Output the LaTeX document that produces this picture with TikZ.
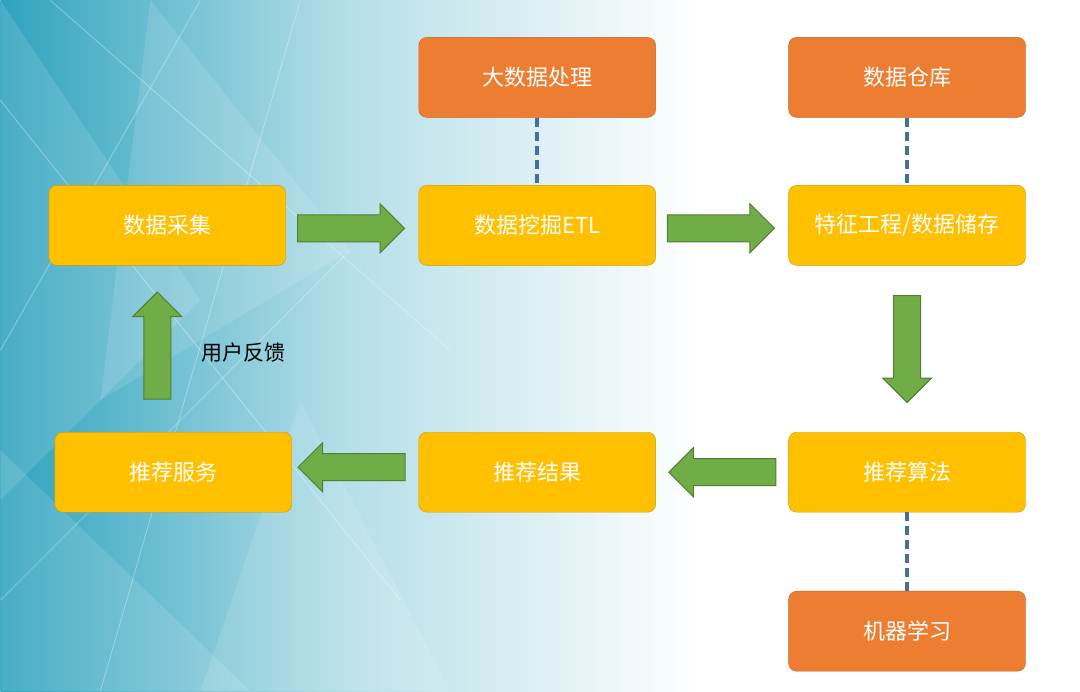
\documentclass[tikz,border=0pt]{standalone}
\usepackage{fontspec}
\setmainfont{Noto Sans CJK SC}
\usetikzlibrary{shapes.arrows}
\definecolor{boxy}{HTML}{FFC000}
\definecolor{boxo}{HTML}{ED7D31}
\definecolor{arrg}{HTML}{70AD47}
\definecolor{arrb}{HTML}{507E32}
\definecolor{dashb}{HTML}{41719C}
\definecolor{teal}{HTML}{2FA3BE}
\begin{document}
\begin{tikzpicture}[x=1pt,y=-1pt,
  ybox/.style={draw=boxy!80!black,fill=boxy,rounded corners=8pt,minimum width=237pt,minimum height=80pt,text=white,font=\fontsize{22}{26}\selectfont},
  obox/.style={ybox,draw=boxo!80!black,fill=boxo},
  garrow/.style={single arrow,draw=arrb,fill=arrg,line width=1pt,minimum height=107pt,inner sep=13pt,single arrow head extend=11pt},
  dline/.style={draw=dashb,line width=3.5pt,dash pattern=on 9pt off 5pt}]
\shade[left color=teal,right color=white,middle color=teal!35] (0,0) rectangle (700,691);
\fill[white] (700,0) rectangle (1080,691);
\foreach \a/\b/\c in {{0,0}/{200,300}/{0,500},{150,0}/{350,250}/{100,400},{0,450}/{250,691}/{0,691},{300,400}/{450,691}/{200,691}}
  \fill[white,opacity=0.12] (\a) -- (\b) -- (\c) -- cycle;
\foreach \a/\b in {{0,100}/{400,600},{50,0}/{450,350},{0,600}/{350,250},{100,691}/{300,0},{200,0}/{0,350}}
  \draw[white,opacity=0.35,line width=0.8pt] (\a) -- (\b);
\node[obox] (big) at (537,77) {大数据处理};
\node[obox] (dw) at (907,77) {数据仓库};
\node[ybox] (cj) at (167,225) {数据采集};
\node[ybox] (etl) at (537,225) {数据挖掘ETL};
\node[ybox] (fe) at (907,225) {特征工程/数据储存};
\node[ybox] (fw) at (173,472) {推荐服务};
\node[ybox] (jg) at (537,472) {推荐结果};
\node[ybox] (sf) at (907,472) {推荐算法};
\node[obox] (ml) at (907,631) {机器学习};
\draw[dline] (big) -- (etl);
\draw[dline] (dw) -- (fe);
\draw[dline] (sf) -- (ml);
\node[garrow] (a1) at (344,228) {};
\node[garrow] (a2) at (714,228) {};
\node[garrow,shape border rotate=270] (a3) at (907,342) {};
\node[garrow,shape border rotate=180] (a4) at (729,472) {};
\node[garrow,shape border rotate=180] (a5) at (358,467) {};
\node[garrow,shape border rotate=90] (a6) at (157,352) {};
\node[font=\fontsize{21}{24}\selectfont,text=black] (fk) at (243,352) {用户反馈};
\end{tikzpicture}
\end{document}
